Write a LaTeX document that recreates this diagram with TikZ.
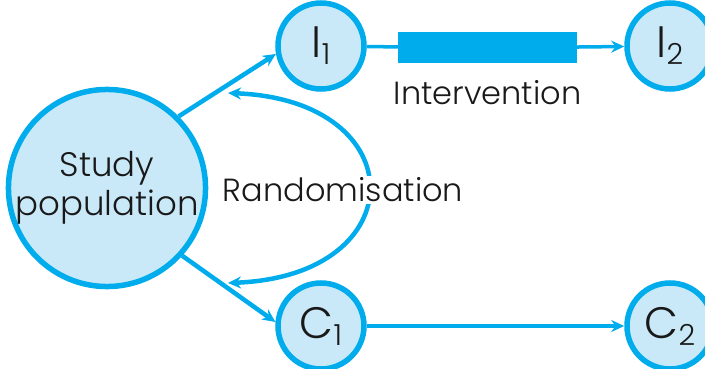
\documentclass[tikz,border=0pt]{standalone}
\usepackage{fontspec}
\setmainfont{Poppins}[UprightFont={* Light}]
\usetikzlibrary{arrows.meta,positioning}
\definecolor{primary}{RGB}{0,172,236}
\definecolor{pale}{RGB}{202,233,248}
\newcommand{\lowsub}[1]{\raisebox{-0.16em}{\fontsize{29}{29}\selectfont #1}}

\begin{document}
\begin{tikzpicture}[
    x=1pt, y=-1pt,
    blob/.style={circle, draw=primary, fill=pale, line width=5.5pt, minimum size=86pt, inner sep=0pt, text=black!90, font=\fontsize{44}{44}\selectfont},
    bigblob/.style={blob, minimum size=179pt, align=center, font=\fontsize{34}{39}\selectfont},
    arrow/.style={-{Stealth[length=13pt,width=12pt]}, line width=4.5pt, primary},
    lbl/.style={text=black!90, font=\fontsize{32}{32}\selectfont}
]
    \path[use as bounding box, clip] (0,0) rectangle (705,369);

    % Groups
    \node[bigblob] (study) at (107,188) {Study\\population};
    \node[blob] (iOne) at (321,46) {I\lowsub{1}};
    \node[blob] (iTwo) at (670,46) {I\lowsub{2}};
    \node[blob] (cOne) at (321,326) {C\lowsub{1}};
    \node[blob] (cTwo) at (670,326) {C\lowsub{2}};

    % Intervention bar
    \node[rectangle, fill=primary, minimum width=179pt, minimum height=31pt, inner sep=0pt] (treat) at (487.5,48) {};
    \node[lbl, below=13pt of treat] (treatText) {Intervention};

    % Randomisation
    \coordinate (randTop) at (228,93);
    \coordinate (randBot) at (228,283);
    \draw[arrow, {Stealth[length=13pt,width=12pt]}-{Stealth[length=13pt,width=12pt]}] (randTop) .. controls (415,100) and (415,276) .. (randBot);
    \node[lbl, fill=white, inner sep=2pt] (rand) at (343,190) {Randomisation};

    % Arrows
    \draw[arrow] (study.45) -- (iOne.190);
    \draw[arrow] (study.-42) -- (cOne.175);
    \draw[primary, line width=3.5pt] (iOne) -- (treat);
    \draw[arrow, line width=3.5pt] (treat) -- (iTwo);
    \draw[arrow, line width=3.5pt] (cOne) -- (cTwo);
\end{tikzpicture}
\end{document}
